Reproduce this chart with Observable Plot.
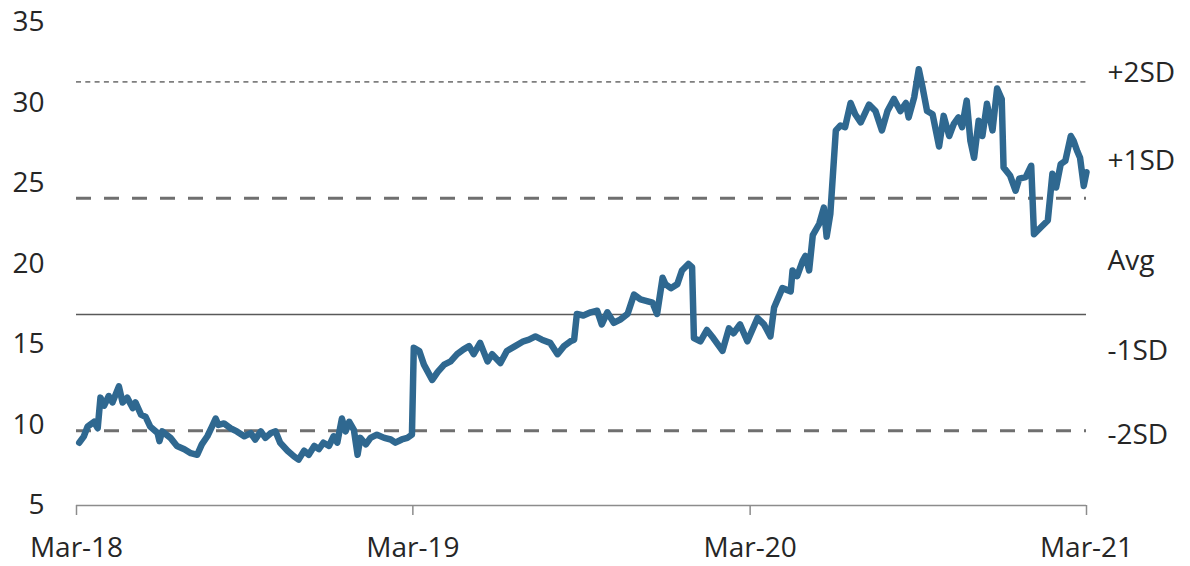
<!DOCTYPE html>
<html>
<head>
<meta charset="utf-8">
<script src="https://cdn.jsdelivr.net/npm/d3@7"></script>
<script src="https://cdn.jsdelivr.net/npm/@observablehq/plot@0.6"></script>
<style>
  html, body { margin: 0; padding: 0; background: #fff; }
  #chart { width: 1190px; height: 566px; }
</style>
</head>
<body>
<div id="chart"></div>
<script>
const dates = [
  "2018-03-04","2018-03-09","2018-03-13","2018-03-20","2018-03-24","2018-03-27","2018-03-31","2018-04-05","2018-04-09","2018-04-16",
  "2018-04-20","2018-04-25","2018-05-01","2018-05-04","2018-05-10","2018-05-15","2018-05-20","2018-05-28","2018-05-30","2018-06-02",
  "2018-06-11","2018-06-18","2018-06-26","2018-07-03","2018-07-10","2018-07-15","2018-07-21","2018-07-26","2018-07-30","2018-08-02",
  "2018-08-08","2018-08-15","2018-08-22","2018-08-30","2018-09-06","2018-09-11","2018-09-17","2018-09-22","2018-09-28","2018-10-03",
  "2018-10-08","2018-10-16","2018-10-23","2018-10-28","2018-11-03","2018-11-08","2018-11-14","2018-11-19","2018-11-24","2018-11-30",
  "2018-12-05","2018-12-09","2018-12-14","2018-12-18","2018-12-22","2018-12-27","2018-12-31","2019-01-03","2019-01-09","2019-01-14",
  "2019-01-21","2019-01-29","2019-02-05","2019-02-10","2019-02-17","2019-02-23","2019-02-28","2019-03-02","2019-03-08","2019-03-13",
  "2019-03-22","2019-03-28","2019-04-04","2019-04-11","2019-04-18","2019-04-25","2019-05-01","2019-05-06","2019-05-13","2019-05-21",
  "2019-05-26","2019-06-04","2019-06-11","2019-06-20","2019-06-29","2019-07-05","2019-07-12","2019-07-19","2019-07-28","2019-08-05",
  "2019-08-12","2019-08-19","2019-08-23","2019-08-26","2019-09-02","2019-09-10","2019-09-17","2019-09-22","2019-09-28","2019-10-05",
  "2019-10-12","2019-10-20","2019-10-27","2019-11-03","2019-11-10","2019-11-16","2019-11-21","2019-11-27","2019-11-30","2019-12-06",
  "2019-12-13","2019-12-18","2019-12-25","2019-12-29","2019-12-31","2020-01-07","2020-01-14","2020-01-21","2020-01-31","2020-02-07",
  "2020-02-12","2020-02-19","2020-02-27","2020-03-09","2020-03-16","2020-03-23","2020-03-27","2020-04-05","2020-04-14","2020-04-16",
  "2020-04-21","2020-04-27","2020-04-30","2020-05-04","2020-05-08","2020-05-15","2020-05-20","2020-05-23","2020-05-27","2020-06-02",
  "2020-06-07","2020-06-12","2020-06-18","2020-06-23","2020-06-29","2020-07-08","2020-07-15","2020-07-22","2020-07-28","2020-08-04",
  "2020-08-11","2020-08-17","2020-08-20","2020-08-26","2020-08-31","2020-09-04","2020-09-09","2020-09-15","2020-09-22","2020-09-27",
  "2020-10-03","2020-10-08","2020-10-13","2020-10-17","2020-10-22","2020-10-26","2020-10-30","2020-11-04","2020-11-08","2020-11-13",
  "2020-11-19","2020-11-24","2020-11-29","2020-12-01","2020-12-08","2020-12-14","2020-12-18","2020-12-25","2020-12-31","2021-01-03",
  "2021-01-10","2021-01-18","2021-01-23","2021-01-27","2021-02-01","2021-02-06","2021-02-12","2021-02-15","2021-02-19","2021-02-22",
  "2021-02-26","2021-03-01"
];
const values = [
  8.9, 9.3, 9.9, 10.2, 9.8, 11.7, 11.2, 11.8, 11.4, 12.4,
  11.4, 11.7, 11.05, 11.4, 10.65, 10.5, 9.9, 9.5, 9.0, 9.6,
  9.2, 8.7, 8.5, 8.25, 8.15, 8.8, 9.3, 9.9, 10.4, 10.0,
  10.1, 9.8, 9.6, 9.3, 9.5, 9.1, 9.6, 9.2, 9.5, 9.6,
  8.9, 8.4, 8.05, 7.85, 8.4, 8.15, 8.7, 8.5, 8.9, 8.7,
  9.3, 8.9, 10.4, 9.6, 10.2, 9.7, 8.15, 9.2, 8.8, 9.2,
  9.4, 9.2, 9.1, 8.9, 9.1, 9.2, 9.4, 14.8, 14.6, 13.75,
  12.8, 13.3, 13.75, 13.95, 14.4, 14.7, 14.9, 14.4, 15.1, 13.95,
  14.4, 13.85, 14.6, 14.9, 15.2, 15.3, 15.5, 15.3, 15.1, 14.4,
  14.9, 15.2, 15.3, 16.9, 16.8, 17.0, 17.1, 16.25, 17.0, 16.35,
  16.55, 16.9, 18.1, 17.8, 17.7, 17.6, 16.9, 19.15, 18.75, 18.5,
  18.75, 19.6, 20.0, 19.8, 15.4, 15.2, 15.9, 15.4, 14.6, 16.0,
  15.7, 16.25, 15.2, 16.65, 16.25, 15.5, 17.3, 18.5, 18.3, 19.6,
  19.25, 20.2, 20.5, 19.6, 21.8, 22.5, 23.5, 21.7, 23.1, 28.3,
  28.6, 28.5, 30.0, 29.3, 28.8, 29.9, 29.5, 28.3, 29.5, 30.25,
  29.5, 30.0, 29.1, 30.35, 32.1, 31.0, 29.5, 29.3, 27.3, 29.2,
  27.95, 28.7, 29.1, 28.5, 30.15, 27.65, 26.6, 28.9, 27.95, 29.95,
  28.3, 30.9, 30.25, 26.0, 25.5, 24.55, 25.3, 25.4, 26.1, 21.85,
  22.25, 22.7, 25.6, 24.75, 26.2, 26.4, 27.95, 27.65, 27.0, 26.6,
  24.85, 25.7
];
const average = 16.87;
const stdDev = 7.22;
const xTicks = ["2018-03-01", "2019-03-01", "2020-03-01", "2021-03-01"];
const yTicks = [5, 10, 15, 20, 25, 30, 35];
const sdLabels = ["+2SD", "+1SD", "Avg", "-1SD", "-2SD"];
const sdLabelY = [31.85, 26.4, 20.2, 14.6, 9.36];

const parse = d3.utcParse("%Y-%m-%d");
const series = dates.map((d, i) => ({date: parse(d), value: values[i]}));
const tickDates = xTicks.map(parse);
const endDate = tickDates[tickDates.length - 1];
const labelRows = sdLabels.map((t, i) => ({label: t, y: sdLabelY[i], x: endDate}));

const textColor = "#262626";
const chart = Plot.plot({
  width: 1190,
  height: 566,
  marginLeft: 76,
  marginRight: 104,
  marginTop: 22,
  marginBottom: 61,
  style: {fontFamily: "'Open Sans', sans-serif", fontSize: "28px", background: "#fff", color: textColor},
  x: {type: "utc", domain: [tickDates[0], endDate]},
  y: {domain: [5, 35]},
  marks: [
    Plot.ruleY([average + 2 * stdDev], {stroke: "#7f7f7f", strokeWidth: 1.6, strokeDasharray: "5,4.3"}),
    Plot.ruleY([average + stdDev, average - stdDev], {stroke: "#6f6f6f", strokeWidth: 3, strokeDasharray: "15,13"}),
    Plot.ruleY([average], {stroke: "#595959", strokeWidth: 1.5}),
    Plot.ruleY([5], {stroke: "#8c8c8c", strokeWidth: 1.5}),
    Plot.axisY({ticks: yTicks, tickSize: 0, tickPadding: 32, fill: textColor, fontSize: 28, label: null}),
    Plot.axisX({ticks: tickDates, tickFormat: d3.utcFormat("%b-%y"), tickSize: 10, tickPadding: 22, stroke: "#8c8c8c", strokeWidth: 1.5, fill: textColor, fontSize: 28, label: null}),
    Plot.line(series, {x: "date", y: "value", stroke: "#2f6890", strokeWidth: 6.5, strokeLinejoin: "round", strokeLinecap: "round"}),
    Plot.text(labelRows, {x: "x", y: "y", text: "label", dx: 21, textAnchor: "start", fill: textColor, fontSize: 28})
  ]
});
document.getElementById("chart").appendChild(chart);
</script>
</body>
</html>
